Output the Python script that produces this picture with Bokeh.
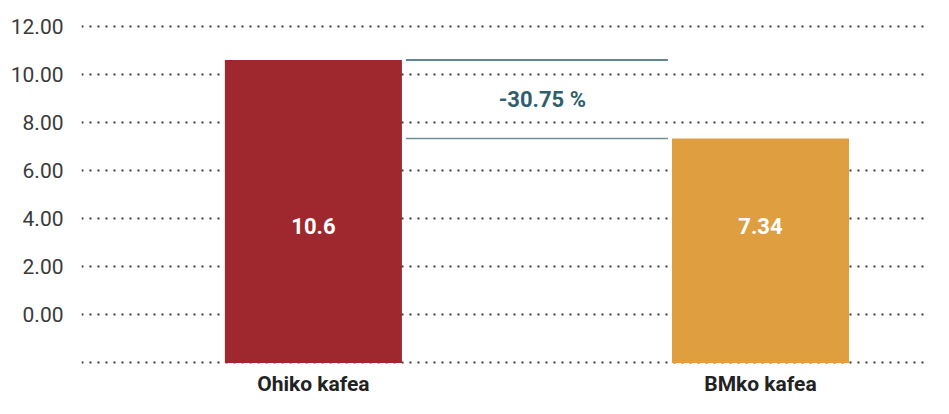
from bokeh.plotting import figure
from bokeh.models import FixedTicker, Range1d, ColumnDataSource
from bokeh.core.properties import value
from bokeh.embed import file_html
from bokeh.resources import INLINE

# ---- data ----
categories = ["Ohiko kafea", "BMko kafea"]
values = [10.6, 7.34]
bar_labels = ["10.6", "7.34"]
colors = ["#9e282d", "#df9f40"]
y_ticks = [-2, 0, 2, 4, 6, 8, 10, 12]
y_tick_labels = {-2: "", 0: "0.00", 2: "2.00", 4: "4.00", 6: "6.00", 8: "8.00", 10: "10.00", 12: "12.00"}
pct_change = (values[1] - values[0]) / values[0] * 100
pct_label = f"{pct_change:.2f} %"

# ---- layout constants ----
baseline = -2
label_y = 3.68
cat_label_y = -2.87
bar_w = 0.396
xs = list(range(len(categories)))

p = figure(width=933, height=398, output_backend="svg", toolbar_location=None,
           x_range=Range1d(-0.5187, 1.3736), y_range=Range1d(-3.48, 13.08),
           min_border_left=81, min_border_right=6, min_border_top=0, min_border_bottom=0)
p.outline_line_color = None
p.background_fill_color = "white"
p.border_fill_color = "white"

p.xaxis.visible = False
p.xgrid.visible = False

yax = p.yaxis[0]
yax.ticker = FixedTicker(ticks=y_ticks)
yax.major_label_overrides = y_tick_labels
yax.axis_line_color = None
yax.major_tick_line_color = None
yax.minor_tick_line_color = None
yax.major_tick_out = 0
yax.major_label_standoff = 18
yax.major_label_text_font = "Roboto"
yax.major_label_text_font_size = "21px"
yax.major_label_text_color = "#3a3a3a"

p.ygrid.ticker = FixedTicker(ticks=y_ticks)
p.ygrid.grid_line_color = "#3a3a3a"
p.ygrid.grid_line_width = 2
p.ygrid.grid_line_dash = "2 6"

src = ColumnDataSource(dict(x=xs, top=values, color=colors, label=bar_labels,
                            cat=categories, label_y=[label_y] * len(xs),
                            cat_y=[cat_label_y] * len(xs)))
p.vbar(x="x", top="top", bottom=baseline, width=bar_w, fill_color="color",
       line_color=None, source=src)

p.text(x="x", y="label_y", text="label", source=src, text_align="center",
       text_baseline="middle", text_color="white", text_font=value("Roboto"),
       text_font_size="22px", text_font_style="bold")

p.text(x="x", y="cat_y", text="cat", source=src, text_align="center",
       text_baseline="middle", text_color="#222222", text_font=value("Roboto"),
       text_font_size="21px", text_font_style="bold")

# change annotation
gap = 0.009
x_start = xs[0] + bar_w / 2 + gap
x_end = xs[1] - bar_w / 2 - gap
p.segment(x0=[x_start], y0=[values[0]], x1=[x_end], y1=[values[0]],
          line_color="#2f5f6b", line_width=1.5)
p.segment(x0=[x_start], y0=[values[1]], x1=[x_end], y1=[values[1]],
          line_color="#6f8e96", line_width=1.5)
p.text(x=[(xs[0] + xs[1]) / 2 + 0.012], y=[(values[0] + values[1]) / 2], text=[pct_label],
       text_align="center", text_baseline="middle", text_color="#2f5f6b",
       text_font=value("Roboto"), text_font_size="22px", text_font_style="bold")

open("out.html", "w").write(file_html(p, INLINE))
